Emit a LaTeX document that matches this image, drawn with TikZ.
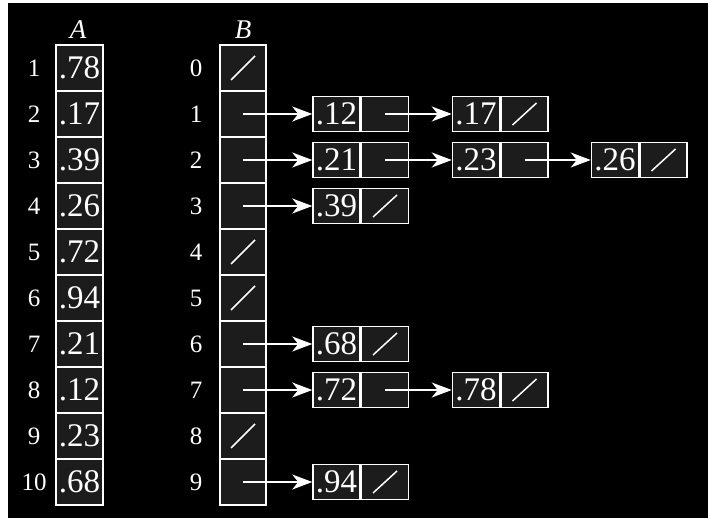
\documentclass[tikz,border=0pt]{standalone}
\usepackage{fontspec}
\setmainfont{Liberation Serif}
\usetikzlibrary{arrows.meta}
\definecolor{cellfill}{gray}{0.11}
\tikzset{
  x=1pt, y=-1pt,
  cell/.style={draw=white, line width=1.5pt, fill=cellfill, inner sep=0pt,
    minimum width=46pt, minimum height=46pt, text=white,
    font=\fontsize{33}{33}\selectfont},
  lcell/.style={cell, minimum width=47pt, minimum height=35pt},
  lab/.style={text=white, font=\fontsize{25}{25}\selectfont, inner sep=0pt},
  ttl/.style={text=white, font=\fontsize{27}{27}\selectfont\itshape, inner sep=0pt},
  nul/.style={draw=white, line width=1.5pt},
  arr/.style={draw=white, line width=1.5pt,
    -{Stealth[length=20pt, width=15pt, inset=6pt]}},
}
\begin{document}
\begin{tikzpicture}
\useasboundingbox (0,0) rectangle (708,518);
\fill[white] (0,0) rectangle (708,518);
\fill[black] (8,3) rectangle (708,518);
% titles
\node[ttl] (tA) at (78,30) {A};
\node[ttl] (tB) at (243,30) {B};
% array A
\foreach \i/\v in {1/.78,2/.17,3/.39,4/.26,5/.72,6/.94,7/.21,8/.12,9/.23,10/.68}{
  \node[cell, minimum width=47pt] (a\i) at (79.5,{22+46*\i}) {\v};
  \node[lab] (la\i) at (34,{22+46*\i}) {\i};
}
% array B
\foreach \i in {0,...,9}{
  \node[cell] (b\i) at (243,{68+46*\i}) {};
  \node[lab] (lb\i) at (196,{68+46*\i}) {\i};
}
% null slashes in B
\foreach \i in {0,4,5,8}{
  \draw[nul] ([shift={(-12,12)}]b\i.center) -- ([shift={(12,-12)}]b\i.center);
}
% list nodes: key cells and pointer cells
\newcommand{\lnode}[4]{% name, x of key centre, y, value
  \node[lcell] (k#1) at (#2,#3) {#4};
  \node[lcell, anchor=west] (p#1) at (k#1.east) {};
}
\lnode{11}{336.5}{114}{.12}
\lnode{12}{476}{114}{.17}
\lnode{21}{336.5}{160}{.21}
\lnode{22}{476}{160}{.23}
\lnode{23}{615}{160}{.26}
\lnode{31}{336.5}{206}{.39}
\lnode{61}{336.5}{344}{.68}
\lnode{71}{336.5}{390}{.72}
\lnode{72}{476}{390}{.78}
\lnode{91}{336.5}{482}{.94}
% null slashes in list
\foreach \n in {12,23,31,61,72,91}{
  \draw[nul] ([shift={(-12,11)}]p\n.center) -- ([shift={(12,-11)}]p\n.center);
}
% arrows from B
\draw[arr] (b1.center) -- (k11.west);
\draw[arr] (b2.center) -- (k21.west);
\draw[arr] (b3.center) -- (k31.west);
\draw[arr] (b6.center) -- (k61.west);
\draw[arr] (b7.center) -- (k71.west);
\draw[arr] (b9.center) -- (k91.west);
% arrows along lists
\draw[arr] (p11.center) -- (k12.west);
\draw[arr] (p21.center) -- (k22.west);
\draw[arr] (p22.center) -- (k23.west);
\draw[arr] (p71.center) -- (k72.west);
\end{tikzpicture}
\end{document}
